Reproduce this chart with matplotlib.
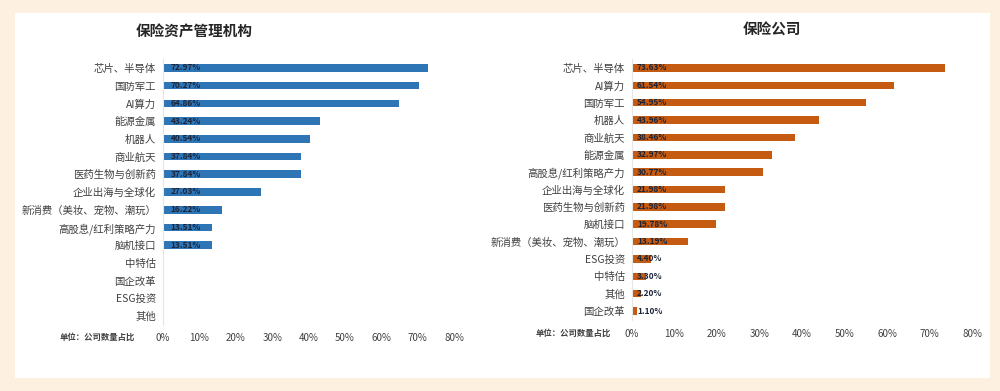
import matplotlib
matplotlib.use("Agg")
import matplotlib.pyplot as plt
from matplotlib.patches import Rectangle

plt.rcParams['font.family'] = ['Noto Sans CJK SC', 'DejaVu Sans']

# ---- data ----
left_title = "保险资产管理机构"
left_cats = ["芯片、半导体", "国防军工", "AI算力", "能源金属", "机器人", "商业航天",
             "医药生物与创新药", "企业出海与全球化", "新消费（美妆、宠物、潮玩）",
             "高股息/红利策略产力", "脑机接口", "中特估", "国企改革", "ESG投资", "其他"]
left_vals = [72.97, 70.27, 64.86, 43.24, 40.54, 37.84, 37.84, 27.03, 16.22,
             13.51, 13.51, 0, 0, 0, 0]

right_title = "保险公司"
right_cats = ["芯片、半导体", "AI算力", "国防军工", "机器人", "商业航天", "能源金属",
              "高股息/红利策略产力", "企业出海与全球化", "医药生物与创新药", "脑机接口",
              "新消费（美妆、宠物、潮玩）", "ESG投资", "中特估", "其他", "国企改革"]
right_vals = [73.63, 61.54, 54.95, 43.96, 38.46, 32.97, 30.77, 21.98, 21.98, 19.78,
              13.19, 4.40, 3.30, 2.20, 1.10]

x_ticks = [0, 10, 20, 30, 40, 50, 60, 70, 80]
x_ticklabels = [f"{t}%" for t in x_ticks]
unit_note = "单位：公司数量占比"

W, H = 1000, 391
fig = plt.figure(figsize=(W / 100, H / 100), dpi=100)
fig.patch.set_facecolor('#FDF0E1')

# white panel (background axes)
bg = fig.add_axes([0, 0, 1, 1], zorder=0)
bg.set_xlim(0, W)
bg.set_ylim(H, 0)
bg.axis('off')
bg.add_patch(Rectangle((15, 13), 990 - 15, 378 - 13, facecolor='white', edgecolor='none'))


def px_axes(x0, x1, y0, y1):
    return fig.add_axes([x0 / W, 1 - y1 / H, (x1 - x0) / W, (y1 - y0) / H], zorder=2)


def draw(ax, cats, vals, color, tick_pad, label_off):
    n = len(cats)
    ys = list(range(n))
    ax.barh(ys, vals, height=0.43, color=color, zorder=2)
    ax.set_ylim(n - 0.5, -0.5)
    ax.set_xlim(0, 80)
    ax.set_yticks(ys)
    ax.set_yticklabels(cats, fontsize=7.5, color='#404040')
    ax.set_xticks(x_ticks)
    ax.set_xticklabels(x_ticklabels, fontsize=7, color='#404040')
    ax.tick_params(axis='y', length=0, pad=5)
    ax.tick_params(axis='x', length=0, pad=tick_pad)
    for s in ['top', 'right', 'bottom']:
        ax.spines[s].set_visible(False)
    ax.spines['left'].set_color('#E6E6E6')
    ax.spines['left'].set_linewidth(0.8)
    ax.set_facecolor('none')
    for y, v in zip(ys, vals):
        if v > 0:
            ax.text(label_off, y, f"{v:.2f}%", fontsize=6, fontweight='bold',
                    color='#1B2438', va='center', ha='left', zorder=3)


axL = px_axes(163, 454, 59.1, 324.9)
draw(axL, left_cats, left_vals, '#2E75B6', 6, 2.1)
fig.text(194 / W, 1 - 32 / H, left_title, fontsize=10.5, fontweight='bold',
         ha='center', va='center', color='#262626')
fig.text(60 / W, 1 - 337 / H, unit_note, fontsize=6, fontweight='bold',
         ha='left', va='center', color='#404040')

axR = px_axes(632, 972, 59.3, 319.7)
draw(axR, right_cats, right_vals, '#C55A11', 7, 1.2)
fig.text(772 / W, 1 - 30 / H, right_title, fontsize=10.5, fontweight='bold',
         ha='center', va='center', color='#262626')
fig.text(536 / W, 1 - 333 / H, unit_note, fontsize=6, fontweight='bold',
         ha='left', va='center', color='#404040')

fig.savefig("out.png", dpi=100, facecolor=fig.get_facecolor())
